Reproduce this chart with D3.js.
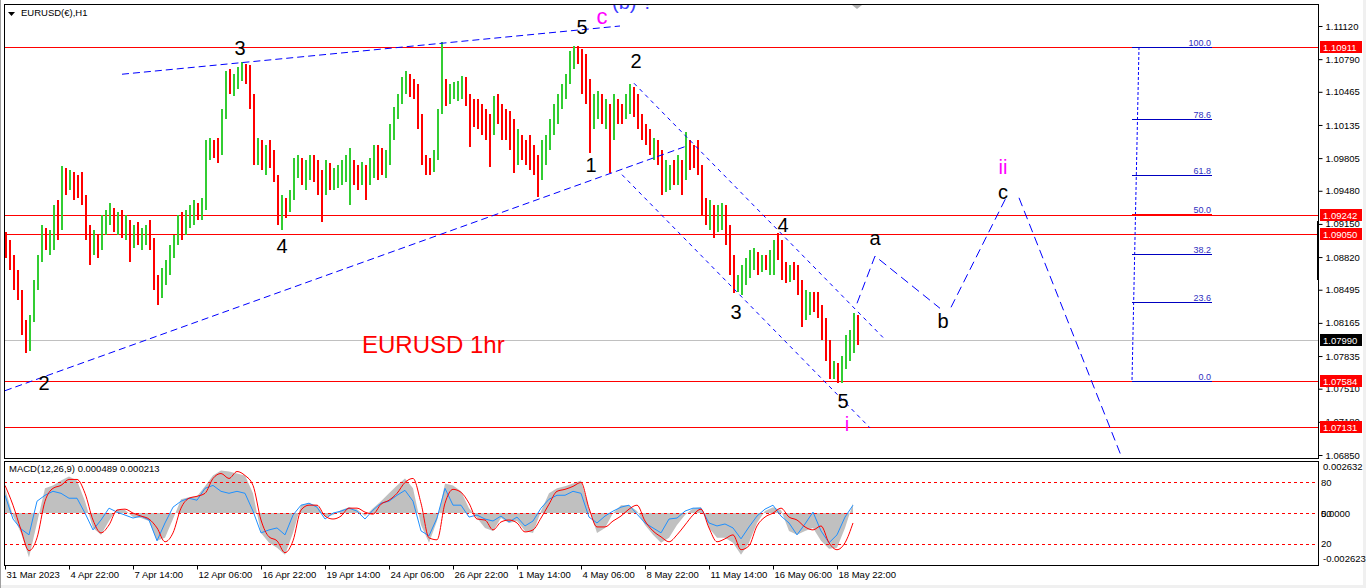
<!DOCTYPE html>
<html>
<head>
<meta charset="utf-8">
<script src="https://cdn.jsdelivr.net/npm/d3@7"></script>
<style>
body{margin:0;background:#fff;overflow:hidden}
svg{display:block}
</style>
</head>
<body>
<svg id="chart" width="1366" height="588"></svg>
<script>
// EURUSD H1 in blocks of 4 hourly bars
var firstOpen = 1.0899;
var barHigh = [
 1.0907,1.0899,1.0884,1.0869,1.0849,1.0819,1.0824,1.0859,1.0884,1.0914,
 1.0911,1.0909,1.0934,1.0939,1.0973,1.0971,1.0969,1.0967,1.0964,1.0967,
 1.0944,1.0914,1.0909,1.0904,1.0924,1.0929,1.0936,1.0931,1.0927,1.0929,
 1.0924,1.0919,1.0914,1.0917,1.0911,1.0914,1.0919,1.0901,1.0864,1.0871,
 1.0879,1.0894,1.0904,1.0924,1.0927,1.0929,1.0934,1.0939,1.0936,1.0941,
 1.0999,1.1001,1.0999,1.1001,1.1029,1.1067,1.1069,1.1064,1.1071,1.1076,
 1.1074,1.1073,1.1044,1.1001,1.0999,1.0994,1.0999,1.0989,1.0964,1.0944,
 1.0941,1.0949,1.0981,1.0984,1.0981,1.0979,1.0984,1.0984,1.0979,1.0969,
 1.0979,1.0976,1.0971,1.0974,1.0979,1.0984,1.0991,1.0979,1.0974,1.0977,
 1.0974,1.0981,1.0994,1.0994,1.0991,1.0989,1.1014,1.1031,1.1044,1.1061,
 1.1067,1.1064,1.1059,1.1054,1.1024,1.0984,1.0981,1.0989,1.1029,1.1096,
 1.1059,1.1054,1.1056,1.1057,1.1062,1.1061,1.1044,1.1039,1.1039,1.1034,
 1.1029,1.1024,1.1042,1.1044,1.1034,1.1029,1.1027,1.1019,1.1009,1.1004,
 1.0999,1.1004,1.0994,1.0984,1.0999,1.1004,1.1019,1.1034,1.1044,1.1054,
 1.1064,1.1087,1.1092,1.1092,1.1089,1.1084,1.1059,1.1044,1.1047,1.1044,
 1.1039,1.1034,1.1044,1.1039,1.1034,1.1044,1.1054,1.1051,1.1044,1.1024,
 1.1014,1.1009,1.1001,1.0999,1.0989,1.0979,1.0974,1.0979,1.0984,1.0979,
 1.1006,1.0999,1.0994,1.0999,1.0974,1.0941,1.0939,1.0934,1.0934,1.0936,
 1.0934,1.0914,1.0884,1.0864,1.0874,1.0881,1.0889,1.0891,1.0887,1.0884,
 1.0884,1.0889,1.0899,1.0906,1.0899,1.0877,1.0874,1.0877,1.0874,1.0859,
 1.0849,1.0847,1.0847,1.0847,1.0834,1.0821,1.0799,1.0779,1.0777,1.0784,
 1.0804,1.0809,1.0826,1.0824
];
var barLow = [
 1.0881,1.0869,1.0849,1.0839,1.0804,1.0787,1.0789,1.0817,1.0849,1.0877,
 1.0889,1.0884,1.0889,1.0899,1.0909,1.0944,1.0949,1.0939,1.0941,1.0934,
 1.0899,1.0874,1.0884,1.0881,1.0889,1.0904,1.0914,1.0907,1.0904,1.0901,
 1.0899,1.0877,1.0891,1.0894,1.0889,1.0894,1.0889,1.0849,1.0834,1.0841,
 1.0854,1.0864,1.0881,1.0894,1.0899,1.0904,1.0911,1.0914,1.0919,1.0919,
 1.0929,1.0979,1.0981,1.0976,1.0984,1.1019,1.1044,1.1042,1.1049,1.1057,
 1.1054,1.1029,1.0974,1.0974,1.0969,1.0964,1.0971,1.0957,1.0914,1.0909,
 1.0921,1.0927,1.0939,1.0961,1.0954,1.0949,1.0959,1.0957,1.0944,1.0917,
 1.0944,1.0949,1.0949,1.0951,1.0954,1.0957,1.0934,1.0954,1.0949,1.0954,
 1.0939,1.0954,1.0961,1.0959,1.0964,1.0961,1.0974,1.0999,1.1019,1.1034,
 1.1044,1.1041,1.1039,1.1009,1.0974,1.0964,1.0964,1.0967,1.0979,1.1024,
 1.1032,1.1034,1.1039,1.1037,1.1039,1.1032,1.0992,1.1011,1.1009,1.1004,
 1.0999,1.0972,1.1004,1.1014,1.0999,1.0999,1.0989,1.0966,1.0974,1.0979,
 1.0974,1.0969,1.0964,1.0942,1.0959,1.0974,1.0989,1.1004,1.1014,1.1029,
 1.1039,1.1054,1.1069,1.1074,1.1044,1.1034,1.0986,1.1009,1.1019,1.1014,
 1.1009,1.0966,1.0999,1.1014,1.1014,1.1019,1.1024,1.1021,1.1009,1.0999,
 1.0994,1.0984,1.0979,1.0974,1.0944,1.0947,1.0949,1.0954,1.0954,1.0944,
 1.0959,1.0969,1.0971,1.0964,1.0924,1.0914,1.0909,1.0901,1.0907,1.0909,
 1.0894,1.0864,1.0846,1.0847,1.0844,1.0854,1.0861,1.0869,1.0864,1.0867,
 1.0869,1.0864,1.0864,1.0879,1.0859,1.0856,1.0857,1.0859,1.0844,1.0812,
 1.0819,1.0824,1.0827,1.0821,1.0799,1.0779,1.0761,1.0761,1.0757,1.0757,
 1.0771,1.0779,1.0787,1.0794
];
var barClose = [
 1.0894,1.0877,1.0854,1.0844,1.0809,1.0794,1.0821,1.0854,1.0879,1.0904,
 1.0894,1.0904,1.0929,1.0909,1.0964,1.0954,1.0961,1.0959,1.0949,1.0939,
 1.0904,1.0889,1.0899,1.0889,1.0917,1.0924,1.0927,1.0914,1.0919,1.0909,
 1.0914,1.0894,1.0909,1.0899,1.0904,1.0907,1.0894,1.0854,1.0844,1.0867,
 1.0874,1.0889,1.0899,1.0914,1.0909,1.0924,1.0929,1.0934,1.0924,1.0934,
 1.0989,1.0994,1.0989,1.0984,1.1024,1.1059,1.1049,1.1054,1.1064,1.1069,
 1.1059,1.1039,1.0989,1.0994,1.0979,1.0989,1.0977,1.0964,1.0924,1.0939,
 1.0934,1.0944,1.0974,1.0977,1.0964,1.0969,1.0974,1.0964,1.0954,1.0949,
 1.0969,1.0954,1.0959,1.0961,1.0969,1.0974,1.0984,1.0964,1.0959,1.0964,
 1.0954,1.0974,1.0989,1.0979,1.0974,1.0979,1.1009,1.1024,1.1039,1.1054,
 1.1059,1.1049,1.1044,1.1019,1.0979,1.0974,1.0971,1.0979,1.1024,1.1044,
 1.1039,1.1044,1.1049,1.1051,1.1054,1.1039,1.1029,1.1024,1.1019,1.1014,
 1.1004,1.0999,1.1034,1.1029,1.1019,1.1009,1.0999,1.0989,1.0999,1.0994,
 1.0984,1.0979,1.0974,1.0964,1.0989,1.0994,1.1014,1.1029,1.1039,1.1049,
 1.1059,1.1079,1.1084,1.1079,1.1054,1.1049,1.1019,1.1029,1.1039,1.1024,
 1.1029,1.1009,1.1029,1.1024,1.1021,1.1039,1.1044,1.1029,1.1014,1.1004,
 1.1001,1.0989,1.0994,1.0984,1.0959,1.0964,1.0969,1.0967,1.0974,1.0954,
 1.0989,1.0984,1.0979,1.0969,1.0934,1.0924,1.0929,1.0919,1.0924,1.0929,
 1.0904,1.0874,1.0854,1.0859,1.0869,1.0877,1.0881,1.0884,1.0877,1.0879,
 1.0877,1.0881,1.0894,1.0891,1.0869,1.0864,1.0869,1.0867,1.0854,1.0834,
 1.0839,1.0843,1.0834,1.0829,1.0809,1.0789,1.0769,1.0774,1.0764,1.0774,
 1.0794,1.0804,1.0814,1.0799
];

// price scale labels, horizontal levels
var priceTicks = [1.11120,1.10790,1.10465,1.10135,1.09805,1.09480,1.09150,1.08820,1.08495,1.08165,1.07835,1.07510,1.07180,1.06850];
var redLevels = [1.10911,1.09242,1.09050,1.07584,1.07131];
var lastPrice = 1.07990;

// time axis (block index -> label)
var dateIdx = [0,16,32,48,64,80,96,112,128,144,160,176,192,208];
var dateLabels = ["31 Mar 2023","4 Apr 22:00","7 Apr 14:00","12 Apr 06:00","16 Apr 22:00","19 Apr 14:00","24 Apr 06:00",
  "26 Apr 22:00","1 May 14:00","4 May 06:00","8 May 22:00","11 May 14:00","16 May 06:00","18 May 22:00"];

// MACD(12,26,9), one value every 2 blocks
var macdHist = [
 0.00125,-0.00015,-0.001,-0.00225,-0.0005,0.00125,0.0014,0.00165,0.00185,0.00165,
 0.0006,-0.00075,-0.0011,-0.0004,0.0002,0.00015,-0.0002,-0.00025,-0.0004,-0.0014,
 -0.00125,-0.0003,0.0007,0.0008,0.00085,0.00135,0.0019,0.00215,0.0021,0.002,
 0.0019,0.001,-0.001,-0.0015,-0.00175,-0.0021,-0.001,0.0004,0.0005,0.0004,
 -0.0002,-0.0001,0.00015,0.0003,0.0002,-0.00015,0.00025,0.0006,0.001,0.0014,
 0.00175,0.00125,-0.0006,-0.0015,-0.0004,0.0015,0.0014,0.0011,0.00025,-0.00025,
 -0.00075,-0.0009,-0.00025,-0.0005,-0.0004,-0.0009,-0.001,0.0001,0.001,0.00125,
 0.00135,0.0015,0.00165,0.00025,-0.001,-0.00075,0,0.0004,0.0004,0.0001,
 -0.0006,-0.0011,-0.0015,-0.00125,-0.0006,-0.0001,0.00025,0.0003,-0.00075,-0.00125,
 -0.00125,-0.0015,-0.0021,-0.0015,-0.0005,0.0001,0.0003,0.00015,-0.0009,-0.0011,
 -0.0009,-0.00075,-0.0014,-0.0018,-0.00175,-0.00075,0.0005
];
var macdSignal = [
 0.0014,0.0004,-0.00085,-0.0019,-0.00125,0.0006,0.00125,0.0014,0.0017,0.0017,
 0.001,-0.00035,-0.001,-0.0006,0.00015,0.0002,0,-0.00015,-0.0003,-0.00075,
 -0.00145,-0.001,0.00025,0.00075,0.00085,0.001,0.00175,0.002,0.00175,0.0021,
 0.0019,0.0014,-0.00035,-0.0012,-0.0014,-0.002,-0.0014,0.00015,0.0004,0.0004,
 -0.00015,-0.0003,-0.00015,0.00025,0.00025,0.00005,-0.00005,0.00045,0.00065,0.001,
 0.00155,0.00175,0.0005,-0.00125,-0.00135,0.0005,0.0012,0.00105,0.0005,-0.0003,
 -0.00035,-0.00085,-0.00045,-0.00035,-0.0005,-0.00095,-0.00085,-0.00025,0.00045,0.0011,
 0.0012,0.00135,0.00155,0.00025,-0.0007,-0.0007,-0.0004,-0.00015,0.0002,0.0004,
 -0.0004,-0.0009,-0.0012,-0.00145,-0.0011,-0.0006,-0.0001,0.0002,-0.00075,-0.00145,
 -0.0013,-0.0011,-0.00185,-0.00165,-0.00065,-0.0002,0,0.00025,-0.0002,-0.00035,
 -0.0007,-0.00085,-0.00065,-0.0015,-0.00185,-0.0015,-0.0005
];
var macdFast = [
 0.0009,-0.0003,-0.0008,-0.0011,0.0006,0.0009,0.0011,0.001,0.00075,0.00075,
 0,-0.00085,-0.00035,0.00025,0.00005,-0.0001,-0.00025,-0.00015,-0.00035,-0.0014,
 -0.0005,0.0003,0.0006,0.00075,0.00065,0.00125,0.0014,0.0011,0.001,0.0011,
 0.001,0.0001,-0.001,-0.00085,-0.00075,-0.0011,-0.0001,0.0004,0.0005,0.0003,
 -0.0003,0,0.0001,0.00025,0.0001,-0.0003,0.00015,0.0005,0.0006,0.0009,
 0.00115,0.0006,-0.0009,-0.00115,-0.00025,0.00125,0.0004,0.0004,-0.0002,-0.0001,
 -0.0003,-0.0004,-0.00015,-0.00045,-0.0002,-0.00065,-0.0004,0.00025,0.0007,0.0009,
 0.0009,0.0011,0.001,-0.0002,-0.0005,-0.00015,0.0001,0.0003,0.0004,-0.00005,
 -0.0005,-0.00075,-0.001,-0.0003,-0.00025,0.0001,0.00025,0.00025,-0.0005,-0.00065,
 -0.00055,-0.00075,-0.0013,-0.0007,-0.00015,0.0002,0.0004,-0.00015,-0.0005,-0.0011,
 -0.00055,0.00005,-0.0009,-0.0015,-0.0011,-0.0002,0.0004
];
var macdLevels = [0.00155, 0, -0.00155];
var macdLevelText = ["80", "50", "20"];

// drawn objects: [blockIndex, price] pairs
var wedgeUpper = [[29.25, 1.1064], [153.75, 1.1112]];
var wedgeLower = [[0, 1.0749], [170.75, 1.0993]];
var chanUpper = [[157.25, 1.1055], [219.5, 1.0802]];
var chanLower = [[154.25, 1.0964], [216.25, 1.0712]];
var projection = [
  [[213, 1.0836], [217.5, 1.0883], [233.75, 1.0831]],
  [[236.5, 1.0832], [250.5, 1.0943]],
  [[253.5, 1.0941], [279.25, 1.0682]]
];
var fibHigh = 1.10911, fibLow = 1.07584;
var fibRatios = [1, 0.786, 0.618, 0.5, 0.382, 0.236, 0];
var fibText = ["100.0", "78.6", "61.8", "50.0", "38.2", "23.6", "0.0"];
var fibSpan = [281.75, 301.75];
var fibStem = [[283.5, fibHigh], [281.75, fibLow]];

// wave counts: text, block index, price (baseline), kind
var waveLabels = [
  ["3", 58.75, 1.1083, "wave"], ["4", 69.25, 1.0886, "wave"], ["2", 9.75, 1.0750, "wave"],
  ["5", 144.25, 1.1104, "wave"], ["c", 149.25, 1.1114, "minor"],
  ["2", 157.75, 1.1070, "wave"], ["1", 146.5, 1.0967, "wave"],
  ["3", 182.75, 1.0820, "wave"], ["4", 194.5, 1.0907, "wave"], ["5", 209.5, 1.0732, "wave"],
  ["i", 210.5, 1.0709, "minor"], ["a", 217.5, 1.0894, "wave"], ["b", 234.5, 1.0811, "wave"],
  ["c", 249.5, 1.0940, "wave"], ["ii", 249.5, 1.0965, "minor"]
];

var W = 1366, H = 588;
var L = 4, R = 1318, T = 4, B = 458, MT = 461, MB = 565;
var font = "'Liberation Sans', Arial, sans-serif";

var svg = d3.select("#chart");
var x = d3.scaleLinear().domain([0, 214]).range([5, 861]);
var y = d3.scaleLinear().domain([1.06850, 1.11120]).range([455, 26]);
var ym = d3.scaleLinear().domain([-0.002623, 0.002632]).range([565, 461]);
var fmt5 = d3.format(".5f");

svg.append("rect").attr("width", W).attr("height", H).attr("fill", "#fff");
svg.append("rect").attr("x", 0).attr("y", 585).attr("width", W).attr("height", 3).attr("fill", "#f0f0f0");
svg.append("rect").attr("x", 1363).attr("y", 0).attr("width", 3).attr("height", H).attr("fill", "#f0f0f0");
svg.append("rect").attr("x", 0).attr("y", 0).attr("width", 1).attr("height", H).attr("fill", "#a0a0a0");

var defs = svg.append("defs");
defs.append("clipPath").attr("id", "clipMain").append("rect")
  .attr("x", L + 1).attr("y", T + 1).attr("width", R - L - 1).attr("height", B - T - 1);
defs.append("clipPath").attr("id", "clipMacd").append("rect")
  .attr("x", L + 1).attr("y", MT + 1).attr("width", R - L - 1).attr("height", MB - MT - 1);

var gMain = svg.append("g").attr("clip-path", "url(#clipMain)");
var gMacd = svg.append("g").attr("clip-path", "url(#clipMacd)");

function hline(g, yy, color, dash) {
  var yy2 = Math.round(yy) + 0.5;
  g.append("line").attr("x1", L).attr("x2", R).attr("y1", yy2).attr("y2", yy2)
    .attr("stroke", color).attr("stroke-width", 1).attr("stroke-dasharray", dash || null)
    .attr("shape-rendering", "crispEdges");
}

// bid line + horizontal levels
hline(gMain, y(lastPrice), "#c0c0c0");
redLevels.forEach(function(v) { hline(gMain, y(v), "#ff0000"); });

// bars
var bars = barClose.map(function(c, i) {
  return {i: i, o: i ? barClose[i - 1] : firstOpen, h: barHigh[i], l: barLow[i], c: c};
});
gMain.selectAll("rect.bar").data(bars).enter().append("rect")
  .attr("class", "bar")
  .attr("x", function(d) { return Math.round(x(d.i)); })
  .attr("y", function(d) { return Math.round(y(d.h)); })
  .attr("width", 2)
  .attr("height", function(d) { return Math.max(1, Math.round(y(d.l)) - Math.round(y(d.h))); })
  .attr("fill", function(d) { return d.c >= d.o ? "#32cd32" : "#ff0000"; })
  .attr("shape-rendering", "crispEdges");

// trend lines
var line = d3.line().x(function(d) { return x(d[0]); }).y(function(d) { return y(d[1]); });
function trend(pts, dash) {
  gMain.append("path").attr("d", line(pts)).attr("fill", "none")
    .attr("stroke", "#0000ff").attr("stroke-width", 1).attr("stroke-dasharray", dash);
}
trend(wedgeUpper, "7,4");
trend(wedgeLower, "7,4");
trend(chanUpper, "4,4");
trend(chanLower, "4,4");
projection.forEach(function(p) { trend(p, "9,5"); });

// fibo
trend(fibStem, "3,2");
fibRatios.forEach(function(r, k) {
  var v = fibLow + r * (fibHigh - fibLow);
  var yy = Math.round(y(v)) + 0.5;
  gMain.append("line").attr("x1", x(fibSpan[0])).attr("x2", x(fibSpan[1])).attr("y1", yy).attr("y2", yy)
    .attr("stroke", r === 0.5 ? "#ff0000" : "#0000c0").attr("shape-rendering", "crispEdges");
  gMain.append("text").attr("x", x(fibSpan[1]) - 1).attr("y", yy - 2)
    .attr("text-anchor", "end").attr("font-family", font).attr("font-size", 9)
    .attr("fill", "#3030c0").text(fibText[k]);
});

// labels
var kindColor = {wave: "#000000", minor: "#ff00ff"};
gMain.selectAll("text.wave").data(waveLabels).enter().append("text")
  .attr("class", "wave")
  .attr("x", function(d) { return x(d[1]); })
  .attr("y", function(d) { return y(d[2]); })
  .attr("text-anchor", "middle")
  .attr("font-family", font)
  .attr("font-size", function(d) { return d[3] === "minor" && d[0] === "c" ? 22 : 20; })
  .attr("fill", function(d) { return kindColor[d[3]]; })
  .text(function(d) { return d[0]; });
gMain.append("text").attr("x", x(151.75)).attr("y", y(1.1129))
  .attr("font-family", font).attr("font-size", 20).attr("fill", "#3c3cff").text("(b) ?");
gMain.append("text").attr("x", x(89.25)).attr("y", y(1.0787))
  .attr("font-family", font).attr("font-size", 24).attr("fill", "#ff0000").text("EURUSD 1hr");

// title
svg.append("path").attr("d", "M8,12L15,12L11.5,16Z").attr("fill", "#000");
svg.append("text").attr("x", 21).attr("y", 16).attr("font-family", font).attr("font-size", 9.5)
  .attr("fill", "#000").text("EURUSD(\u20ac),H1");
svg.append("path").attr("d", "M852,5L862,5L857,9Z").attr("fill", "#b0b0b0");

// MACD panel
var mx = function(d, j) { return x(2 * j); };
gMacd.append("path")
  .attr("d", d3.area().x(mx).y0(ym(0)).y1(function(d) { return ym(d); })(macdHist))
  .attr("fill", "#c0c0c0");
macdLevels.forEach(function(v) { hline(gMacd, ym(v), "#ff0000", "3,3"); });
gMacd.append("path").attr("d", d3.line().x(mx).y(function(d) { return ym(d); })(macdFast))
  .attr("fill", "none").attr("stroke", "#1e90ff").attr("stroke-width", 1);
gMacd.append("path").attr("d", d3.line().x(mx).y(function(d) { return ym(d); }).curve(d3.curveMonotoneX)(macdSignal))
  .attr("fill", "none").attr("stroke", "#ff0000").attr("stroke-width", 1);
svg.append("text").attr("x", 9).attr("y", 472).attr("font-family", font).attr("font-size", 9.5)
  .attr("fill", "#000").text("MACD(12,26,9) 0.000489 0.000213");

// panel frames
svg.append("rect").attr("x", L + 0.5).attr("y", T + 0.5).attr("width", R - L).attr("height", B - T)
  .attr("fill", "none").attr("stroke", "#000").attr("shape-rendering", "crispEdges");
svg.append("rect").attr("x", L + 0.5).attr("y", MT + 0.5).attr("width", R - L).attr("height", MB - MT)
  .attr("fill", "none").attr("stroke", "#000").attr("shape-rendering", "crispEdges");
svg.append("rect").attr("x", R - 1).attr("y", 221).attr("width", 2).attr("height", 59).attr("fill", "#000");

// price axis
var yAxis = d3.axisRight(y).tickValues(priceTicks).tickSize(4).tickPadding(3).tickFormat(fmt5);
var ga = svg.append("g").attr("transform", "translate(" + (R + 0.5) + ",0)").call(yAxis);
ga.select(".domain").remove();
ga.attr("font-family", font).attr("font-size", 9.5);

function tag(v, bg) {
  var yy = Math.round(y(v));
  svg.append("rect").attr("x", R + 2).attr("y", yy - 6).attr("width", 42).attr("height", 12).attr("fill", bg);
  svg.append("text").attr("x", R + 5).attr("y", yy + 3.5).attr("font-family", font).attr("font-size", 9.5)
    .attr("fill", "#fff").text(fmt5(v));
}
redLevels.forEach(function(v) { tag(v, "#ff0000"); });
tag(lastPrice, "#000000");

// MACD scale texts
var gm = svg.append("g").attr("font-family", font).attr("font-size", 9.5).attr("fill", "#000");
gm.append("text").attr("x", R + 5).attr("y", 470).text("0.002632");
gm.append("text").attr("x", R + 5).attr("y", 562).text("-0.002623");
macdLevels.forEach(function(v, k) {
  gm.append("text").attr("x", R + 3).attr("y", ym(v) + 3.5).text(macdLevelText[k]);
});
gm.append("text").attr("x", R + 3).attr("y", ym(0) + 3.5).text("0.0000");

// time axis
var xAxis = d3.axisBottom(x).tickValues(dateIdx).tickSize(4).tickPadding(2)
  .tickFormat(function(d, i) { return dateLabels[i]; });
var gx = svg.append("g").attr("transform", "translate(0," + (MB + 0.5) + ")").call(xAxis);
gx.select(".domain").remove();
gx.attr("font-family", font).attr("font-size", 9.5);
gx.selectAll("text").attr("text-anchor", "start").attr("dx", 1);
</script>
</body>
</html>
